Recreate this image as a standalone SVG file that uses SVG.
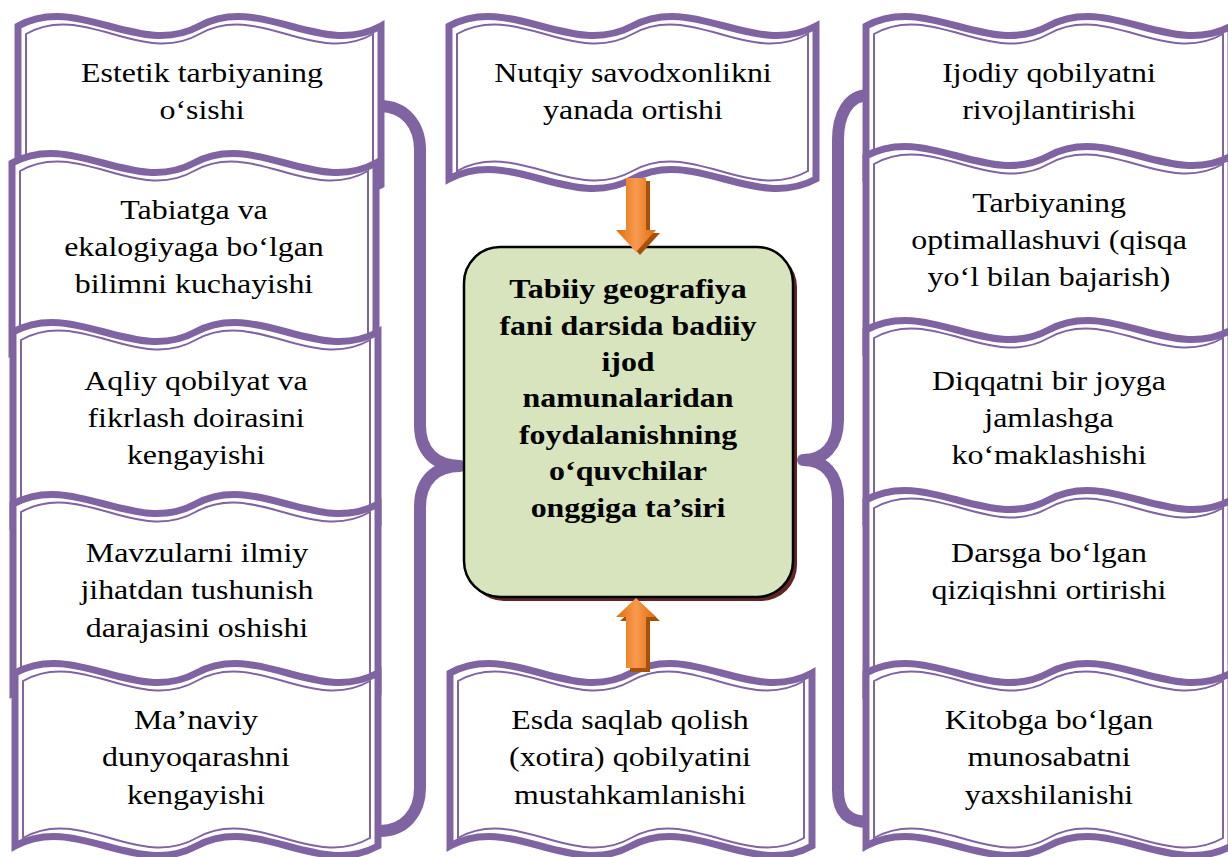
<svg xmlns="http://www.w3.org/2000/svg" width="1228" height="857" viewBox="0 0 1228 857">
<defs>
<style>
.wb{fill:#fff;stroke:#8064A2;stroke-width:7;stroke-linejoin:miter;stroke-miterlimit:4}
.wi{fill:none;stroke:#8064A2;stroke-width:2}
.t{font-family:"Liberation Serif","Times New Roman",serif;font-size:28px;fill:#000;text-anchor:middle}
.tb{font-weight:bold}
.brace{fill:none;stroke:#8064A2;stroke-width:12;stroke-linejoin:round;stroke-linecap:butt}
.arr{fill:url(#og)}
.arrs{fill:#A4510A}
</style>
<linearGradient id="og" x1="0" y1="0" x2="1" y2="0">
<stop offset="0" stop-color="#E36C09"/>
<stop offset="0.5" stop-color="#F79A50"/>
<stop offset="1" stop-color="#E36C09"/>
</linearGradient>
</defs>
<rect width="1228" height="857" fill="#fff"/>
<g id="connectors">
<path class="brace" d="M380,106 C405,106 420,125 420,150 L420,425 C420,452 436,466 460,466 C436,466 420,480 420,507 L420,788 C420,812 405,831 380,831"/>
<path class="brace" d="M869,95 C848,95 838,115 838,140 L838,420 C838,446 824,460 803,460 C824,460 838,474 838,500 L838,790 C838,812 848,822 869,822"/>
</g>
<g id="left1">
<path class="wb" d="M18,26 C78.5,-7 139,59 199.5,26 C260,-7 320.5,59 381,26 L381,185 C320.5,218 260,152 199.5,185 C139,218 78.5,152 18,185 Z"/>
<path class="wi" d="M26,34 C83.8,1 141.7,67 199.5,34 C257.3,1 315.2,67 373,34 L373,177 C315.2,210 257.3,144 199.5,177 C141.7,210 83.8,144 26,177 Z"/>
<text class="t" transform="translate(202 0) scale(1.14 1)"><tspan x="0" y="82">Estetik tarbiyaning</tspan><tspan x="0" y="119">o‘sishi</tspan></text>
</g>
<g id="left2">
<path class="wb" d="M12,163 C72.7,130 133.3,196 194,163 C254.7,130 315.3,196 376,163 L376,352 C315.3,385 254.7,319 194,352 C133.3,385 72.7,319 12,352 Z"/>
<path class="wi" d="M20,171 C78,138 136,204 194,171 C252,138 310,204 368,171 L368,344 C310,377 252,311 194,344 C136,377 78,311 20,344 Z"/>
<text class="t" transform="translate(194 0) scale(1.14 1)"><tspan x="0" y="219">Tabiatga va</tspan><tspan x="0" y="256">ekalogiyaga bo‘lgan</tspan><tspan x="0" y="293">bilimni kuchayishi</tspan></text>
</g>
<g id="left3">
<path class="wb" d="M13,332 C73.8,299 134.7,365 195.5,332 C256.3,299 317.2,365 378,332 L378,524 C317.2,557 256.3,491 195.5,524 C134.7,557 73.8,491 13,524 Z"/>
<path class="wi" d="M21,340 C79.2,307 137.3,373 195.5,340 C253.7,307 311.8,373 370,340 L370,516 C311.8,549 253.7,483 195.5,516 C137.3,549 79.2,483 21,516 Z"/>
<text class="t" transform="translate(196 0) scale(1.14 1)"><tspan x="0" y="390">Aqliy qobilyat va</tspan><tspan x="0" y="427">fikrlash doirasini</tspan><tspan x="0" y="464">kengayishi</tspan></text>
</g>
<g id="left4">
<path class="wb" d="M13,504 C73.8,471 134.7,537 195.5,504 C256.3,471 317.2,537 378,504 L378,693 C317.2,726 256.3,660 195.5,693 C134.7,726 73.8,660 13,693 Z"/>
<path class="wi" d="M21,512 C79.2,479 137.3,545 195.5,512 C253.7,479 311.8,545 370,512 L370,685 C311.8,718 253.7,652 195.5,685 C137.3,718 79.2,652 21,685 Z"/>
<text class="t" transform="translate(197 0) scale(1.14 1)"><tspan x="0" y="562">Mavzularni ilmiy</tspan><tspan x="0" y="599">jihatdan tushunish</tspan><tspan x="0" y="637">darajasini oshishi</tspan></text>
</g>
<g id="left5">
<path class="wb" d="M15,673 C75.5,640 136,706 196.5,673 C257,640 317.5,706 378,673 L378,846 C317.5,879 257,813 196.5,846 C136,879 75.5,813 15,846 Z"/>
<path class="wi" d="M23,681 C80.8,648 138.7,714 196.5,681 C254.3,648 312.2,714 370,681 L370,838 C312.2,871 254.3,805 196.5,838 C138.7,871 80.8,805 23,838 Z"/>
<text class="t" transform="translate(196 0) scale(1.14 1)"><tspan x="0" y="729">Ma’naviy</tspan><tspan x="0" y="766">dunyoqarashni</tspan><tspan x="0" y="804">kengayishi</tspan></text>
</g>
<g id="center-top">
<path class="wb" d="M449,26 C510.2,-7 571.3,59 632.5,26 C693.7,-7 754.8,59 816,26 L816,179 C754.8,212 693.7,146 632.5,179 C571.3,212 510.2,146 449,179 Z"/>
<path class="wi" d="M457,34 C515.5,1 574,67 632.5,34 C691,1 749.5,67 808,34 L808,171 C749.5,204 691,138 632.5,171 C574,204 515.5,138 457,171 Z"/>
<text class="t" transform="translate(633 0) scale(1.14 1)"><tspan x="0" y="82">Nutqiy savodxonlikni</tspan><tspan x="0" y="119">yanada ortishi</tspan></text>
</g>
<g id="right1">
<path class="wb" d="M866,26 C926.8,-7 987.7,59 1048.5,26 C1109.3,-7 1170.2,59 1231,26 L1231,176 C1170.2,209 1109.3,143 1048.5,176 C987.7,209 926.8,143 866,176 Z"/>
<path class="wi" d="M874,34 C932.2,1 990.3,67 1048.5,34 C1106.7,1 1164.8,67 1223,34 L1223,168 C1164.8,201 1106.7,135 1048.5,168 C990.3,201 932.2,135 874,168 Z"/>
<text class="t" transform="translate(1049 0) scale(1.14 1)"><tspan x="0" y="82">Ijodiy qobilyatni</tspan><tspan x="0" y="119">rivojlantirishi</tspan></text>
</g>
<g id="right2">
<path class="wb" d="M866,156 C926.8,123 987.7,189 1048.5,156 C1109.3,123 1170.2,189 1231,156 L1231,350 C1170.2,383 1109.3,317 1048.5,350 C987.7,383 926.8,317 866,350 Z"/>
<path class="wi" d="M874,164 C932.2,131 990.3,197 1048.5,164 C1106.7,131 1164.8,197 1223,164 L1223,342 C1164.8,375 1106.7,309 1048.5,342 C990.3,375 932.2,309 874,342 Z"/>
<text class="t" transform="translate(1049 0) scale(1.14 1)"><tspan x="0" y="212">Tarbiyaning</tspan><tspan x="0" y="249">optimallashuvi (qisqa</tspan><tspan x="0" y="286">yo‘l bilan bajarish)</tspan></text>
</g>
<g id="right3">
<path class="wb" d="M866,330 C926.8,297 987.7,363 1048.5,330 C1109.3,297 1170.2,363 1231,330 L1231,520 C1170.2,553 1109.3,487 1048.5,520 C987.7,553 926.8,487 866,520 Z"/>
<path class="wi" d="M874,338 C932.2,305 990.3,371 1048.5,338 C1106.7,305 1164.8,371 1223,338 L1223,512 C1164.8,545 1106.7,479 1048.5,512 C990.3,545 932.2,479 874,512 Z"/>
<text class="t" transform="translate(1049 0) scale(1.14 1)"><tspan x="0" y="390">Diqqatni bir joyga</tspan><tspan x="0" y="427">jamlashga</tspan><tspan x="0" y="464">ko‘maklashishi</tspan></text>
</g>
<g id="right4">
<path class="wb" d="M866,500 C926.8,467 987.7,533 1048.5,500 C1109.3,467 1170.2,533 1231,500 L1231,693 C1170.2,726 1109.3,660 1048.5,693 C987.7,726 926.8,660 866,693 Z"/>
<path class="wi" d="M874,508 C932.2,475 990.3,541 1048.5,508 C1106.7,475 1164.8,541 1223,508 L1223,685 C1164.8,718 1106.7,652 1048.5,685 C990.3,718 932.2,652 874,685 Z"/>
<text class="t" transform="translate(1049 0) scale(1.14 1)"><tspan x="0" y="562">Darsga bo‘lgan</tspan><tspan x="0" y="599">qiziqishni ortirishi</tspan></text>
</g>
<g id="right5">
<path class="wb" d="M866,673 C926.8,640 987.7,706 1048.5,673 C1109.3,640 1170.2,706 1231,673 L1231,846 C1170.2,879 1109.3,813 1048.5,846 C987.7,879 926.8,813 866,846 Z"/>
<path class="wi" d="M874,681 C932.2,648 990.3,714 1048.5,681 C1106.7,648 1164.8,714 1223,681 L1223,838 C1164.8,871 1106.7,805 1048.5,838 C990.3,871 932.2,805 874,838 Z"/>
<text class="t" transform="translate(1049 0) scale(1.14 1)"><tspan x="0" y="729">Kitobga bo‘lgan</tspan><tspan x="0" y="766">munosabatni</tspan><tspan x="0" y="804">yaxshilanishi</tspan></text>
</g>
<g id="center-bottom">
<path class="wb" d="M450,673 C510.3,640 570.7,706 631,673 C691.3,640 751.7,706 812,673 L812,846 C751.7,879 691.3,813 631,846 C570.7,879 510.3,813 450,846 Z"/>
<path class="wi" d="M458,681 C515.7,648 573.3,714 631,681 C688.7,648 746.3,714 804,681 L804,838 C746.3,871 688.7,805 631,838 C573.3,871 515.7,805 458,838 Z"/>
<text class="t" transform="translate(630 0) scale(1.14 1)"><tspan x="0" y="729">Esda saqlab qolish</tspan><tspan x="0" y="766">(xotira) qobilyatini</tspan><tspan x="0" y="804">mustahkamlanishi</tspan></text>
</g>
<g id="main">
<rect x="468" y="251" width="329" height="350" rx="36" fill="#632523"/>
<rect x="464" y="247" width="329" height="350" rx="36" fill="#D7E4BD" stroke="#000" stroke-width="2.5"/>
<text class="t tb" transform="translate(628 0) scale(1.14 1)"><tspan x="0" y="298">Tabiiy geografiya</tspan><tspan x="0" y="335">fani darsida badiiy</tspan><tspan x="0" y="371">ijod</tspan><tspan x="0" y="407">namunalaridan</tspan><tspan x="0" y="444">foydalanishning</tspan><tspan x="0" y="480">o‘quvchilar</tspan><tspan x="0" y="517">onggiga ta’siri</tspan></text>
</g>
<g id="arrows">
<path class="arrs" transform="translate(4 3)" d="M626,178 L646,178 L646,230 L656,230 L636,252 L616,230 L626,230 Z"/>
<path class="arr" d="M626,178 L646,178 L646,230 L656,230 L636,252 L616,230 L626,230 Z"/>
<path class="arrs" transform="translate(4 4)" d="M636,598 L656,617 L646,617 L646,668 L626,668 L626,617 L616,617 Z"/>
<path class="arr" d="M636,598 L656,617 L646,617 L646,668 L626,668 L626,617 L616,617 Z"/>
</g>
</svg>
